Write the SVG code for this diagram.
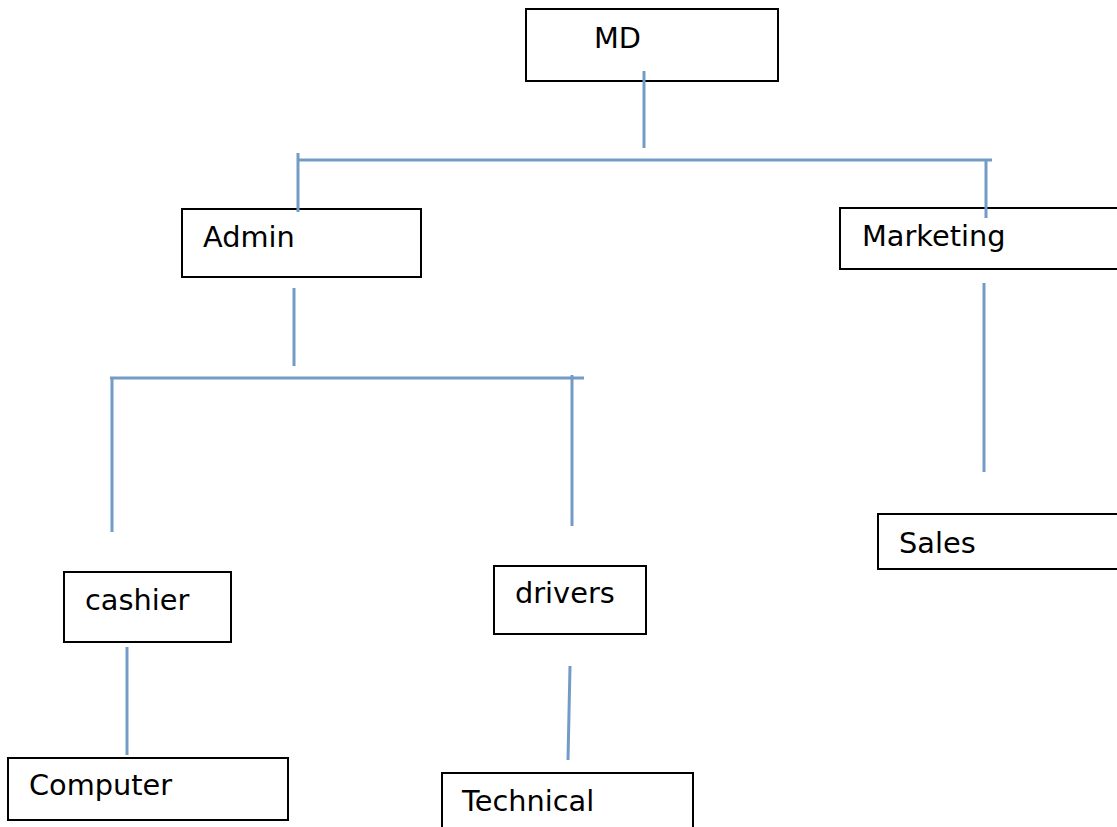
<svg xmlns="http://www.w3.org/2000/svg" width="1117" height="827" viewBox="0 0 1117 827">
<style>
.box{fill:#fff;stroke:#000;stroke-width:2}
.lbl{font-family:"DejaVu Sans",sans-serif;font-size:28.8px;fill:#000}
.c{stroke:#729bc6;stroke-width:3;fill:none}
</style>
<rect width="1117" height="827" fill="#fff"/>
<g id="node-md"><rect class="box" x="526" y="9" width="252" height="72"/><text class="lbl" x="594" y="48">MD</text></g>
<g id="node-admin"><rect class="box" x="182" y="209" width="239" height="68"/><text class="lbl" x="203" y="247">Admin</text></g>
<g id="node-marketing"><rect class="box" x="840" y="208" width="290" height="61"/><text class="lbl" x="862" y="246">Marketing</text></g>
<g id="node-cashier"><rect class="box" x="64" y="572" width="167" height="70"/><text class="lbl" x="85" y="610">cashier</text></g>
<g id="node-drivers"><rect class="box" x="494" y="566" width="152" height="68"/><text class="lbl" x="515" y="603">drivers</text></g>
<g id="node-sales"><rect class="box" x="878" y="514" width="250" height="55"/><text class="lbl" x="899" y="553">Sales</text></g>
<g id="node-computer"><rect class="box" x="8" y="758" width="280" height="62"/><text class="lbl" x="29" y="795">Computer</text></g>
<g id="node-technical"><rect class="box" x="442" y="773" width="251" height="70"/><text class="lbl" x="462" y="811">Technical</text></g>
<g id="connectors">
<line class="c" x1="644" y1="71" x2="644" y2="148"/>
<line class="c" x1="297" y1="160" x2="992" y2="160"/>
<line class="c" x1="298" y1="153" x2="298" y2="212"/>
<line class="c" x1="986" y1="160" x2="986" y2="218"/>
<line class="c" x1="294" y1="288" x2="294" y2="366"/>
<line class="c" x1="110" y1="378" x2="584" y2="378"/>
<line class="c" x1="112" y1="378" x2="112" y2="532"/>
<line class="c" x1="572" y1="375" x2="572" y2="526"/>
<line class="c" x1="984" y1="283" x2="984" y2="472"/>
<line class="c" x1="127" y1="647" x2="127" y2="755"/>
<line class="c" x1="570" y1="666" x2="568" y2="760"/>
</g>
</svg>
